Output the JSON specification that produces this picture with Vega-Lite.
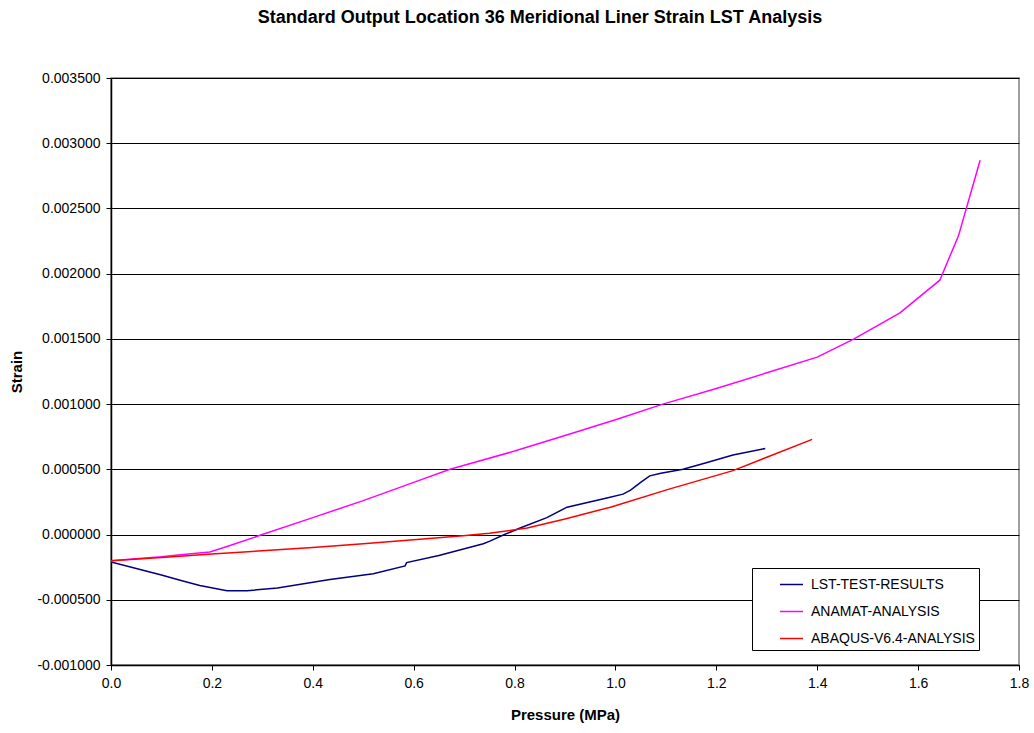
{
  "$schema": "https://vega.github.io/schema/vega-lite/v6.json",
  "autosize": "none",
  "width": 908,
  "height": 587,
  "padding": {"left": 111, "top": 78, "right": 15, "bottom": 68},
  "background": "white",
  "title": {
    "text": "Standard Output Location 36 Meridional Liner Strain LST Analysis",
    "anchor": "middle",
    "frame": "group",
    "dx": -25,
    "offset": 44,
    "font": "Liberation Sans",
    "fontSize": 18,
    "fontWeight": "bold",
    "color": "black"
  },
  "config": {
    "font": "Liberation Sans",
    "view": {"stroke": "#808080", "strokeWidth": 1.5},
    "axis": {
      "labelFont": "Liberation Sans",
      "labelFontSize": 14,
      "labelColor": "black",
      "titleFont": "Liberation Sans",
      "titleFontSize": 15,
      "titleFontWeight": "bold",
      "titleColor": "black",
      "domainColor": "black",
      "domainWidth": 1.5,
      "tickColor": "black",
      "tickSize": 5,
      "tickWidth": 1
    },
    "legend": {
      "labelFont": "Liberation Sans",
      "labelFontSize": 14,
      "labelColor": "black"
    }
  },
  "data": {
    "values": [
      {"series": "LST-TEST-RESULTS", "k": 1, "pressure": 0.0, "strain": 0.0},
      {"series": "LST-TEST-RESULTS", "k": 2, "pressure": 0.0, "strain": -0.00021},
      {"series": "LST-TEST-RESULTS", "k": 3, "pressure": 0.05, "strain": -0.00026},
      {"series": "LST-TEST-RESULTS", "k": 4, "pressure": 0.1, "strain": -0.00031},
      {"series": "LST-TEST-RESULTS", "k": 5, "pressure": 0.137, "strain": -0.00035},
      {"series": "LST-TEST-RESULTS", "k": 6, "pressure": 0.176, "strain": -0.00039},
      {"series": "LST-TEST-RESULTS", "k": 7, "pressure": 0.23, "strain": -0.00043},
      {"series": "LST-TEST-RESULTS", "k": 8, "pressure": 0.27, "strain": -0.00043},
      {"series": "LST-TEST-RESULTS", "k": 9, "pressure": 0.33, "strain": -0.00041},
      {"series": "LST-TEST-RESULTS", "k": 10, "pressure": 0.434, "strain": -0.000345},
      {"series": "LST-TEST-RESULTS", "k": 11, "pressure": 0.52, "strain": -0.0003},
      {"series": "LST-TEST-RESULTS", "k": 12, "pressure": 0.583, "strain": -0.00024},
      {"series": "LST-TEST-RESULTS", "k": 13, "pressure": 0.586, "strain": -0.000215},
      {"series": "LST-TEST-RESULTS", "k": 14, "pressure": 0.65, "strain": -0.00016},
      {"series": "LST-TEST-RESULTS", "k": 15, "pressure": 0.738, "strain": -0.00007},
      {"series": "LST-TEST-RESULTS", "k": 16, "pressure": 0.751, "strain": -0.00005},
      {"series": "LST-TEST-RESULTS", "k": 17, "pressure": 0.78, "strain": 0.0},
      {"series": "LST-TEST-RESULTS", "k": 18, "pressure": 0.811, "strain": 0.00005},
      {"series": "LST-TEST-RESULTS", "k": 19, "pressure": 0.864, "strain": 0.00013},
      {"series": "LST-TEST-RESULTS", "k": 20, "pressure": 0.904, "strain": 0.00021},
      {"series": "LST-TEST-RESULTS", "k": 21, "pressure": 0.983, "strain": 0.00028},
      {"series": "LST-TEST-RESULTS", "k": 22, "pressure": 1.015, "strain": 0.00031},
      {"series": "LST-TEST-RESULTS", "k": 23, "pressure": 1.03, "strain": 0.00034},
      {"series": "LST-TEST-RESULTS", "k": 24, "pressure": 1.05, "strain": 0.0004},
      {"series": "LST-TEST-RESULTS", "k": 25, "pressure": 1.068, "strain": 0.00045},
      {"series": "LST-TEST-RESULTS", "k": 26, "pressure": 1.09, "strain": 0.00047},
      {"series": "LST-TEST-RESULTS", "k": 27, "pressure": 1.134, "strain": 0.0005},
      {"series": "LST-TEST-RESULTS", "k": 28, "pressure": 1.18, "strain": 0.00055},
      {"series": "LST-TEST-RESULTS", "k": 29, "pressure": 1.233, "strain": 0.00061},
      {"series": "LST-TEST-RESULTS", "k": 30, "pressure": 1.297, "strain": 0.00066},

      {"series": "ANAMAT-ANALYSIS", "k": 1, "pressure": 0.0, "strain": -0.0002},
      {"series": "ANAMAT-ANALYSIS", "k": 2, "pressure": 0.1, "strain": -0.00017},
      {"series": "ANAMAT-ANALYSIS", "k": 3, "pressure": 0.143, "strain": -0.000152},
      {"series": "ANAMAT-ANALYSIS", "k": 4, "pressure": 0.196, "strain": -0.000134},
      {"series": "ANAMAT-ANALYSIS", "k": 5, "pressure": 0.236, "strain": -0.000084},
      {"series": "ANAMAT-ANALYSIS", "k": 6, "pressure": 0.3, "strain": 0.0},
      {"series": "ANAMAT-ANALYSIS", "k": 7, "pressure": 0.4, "strain": 0.00013},
      {"series": "ANAMAT-ANALYSIS", "k": 8, "pressure": 0.5, "strain": 0.00026},
      {"series": "ANAMAT-ANALYSIS", "k": 9, "pressure": 0.6, "strain": 0.0004},
      {"series": "ANAMAT-ANALYSIS", "k": 10, "pressure": 0.672, "strain": 0.0005},
      {"series": "ANAMAT-ANALYSIS", "k": 11, "pressure": 0.8, "strain": 0.00064},
      {"series": "ANAMAT-ANALYSIS", "k": 12, "pressure": 0.9, "strain": 0.00076},
      {"series": "ANAMAT-ANALYSIS", "k": 13, "pressure": 1.0, "strain": 0.00088},
      {"series": "ANAMAT-ANALYSIS", "k": 14, "pressure": 1.094, "strain": 0.001},
      {"series": "ANAMAT-ANALYSIS", "k": 15, "pressure": 1.2, "strain": 0.00112},
      {"series": "ANAMAT-ANALYSIS", "k": 16, "pressure": 1.3, "strain": 0.00124},
      {"series": "ANAMAT-ANALYSIS", "k": 17, "pressure": 1.4, "strain": 0.00136},
      {"series": "ANAMAT-ANALYSIS", "k": 18, "pressure": 1.473, "strain": 0.0015},
      {"series": "ANAMAT-ANALYSIS", "k": 19, "pressure": 1.564, "strain": 0.0017},
      {"series": "ANAMAT-ANALYSIS", "k": 20, "pressure": 1.643, "strain": 0.00195},
      {"series": "ANAMAT-ANALYSIS", "k": 21, "pressure": 1.68, "strain": 0.00229},
      {"series": "ANAMAT-ANALYSIS", "k": 22, "pressure": 1.723, "strain": 0.00287},

      {"series": "ABAQUS-V6.4-ANALYSIS", "k": 1, "pressure": 0.0, "strain": -0.0002},
      {"series": "ABAQUS-V6.4-ANALYSIS", "k": 2, "pressure": 0.1, "strain": -0.000175},
      {"series": "ABAQUS-V6.4-ANALYSIS", "k": 3, "pressure": 0.2, "strain": -0.00015},
      {"series": "ABAQUS-V6.4-ANALYSIS", "k": 4, "pressure": 0.315, "strain": -0.00012},
      {"series": "ABAQUS-V6.4-ANALYSIS", "k": 5, "pressure": 0.4, "strain": -0.0001},
      {"series": "ABAQUS-V6.4-ANALYSIS", "k": 6, "pressure": 0.5, "strain": -0.00007},
      {"series": "ABAQUS-V6.4-ANALYSIS", "k": 7, "pressure": 0.6, "strain": -0.00004},
      {"series": "ABAQUS-V6.4-ANALYSIS", "k": 8, "pressure": 0.698, "strain": -0.00001},
      {"series": "ABAQUS-V6.4-ANALYSIS", "k": 9, "pressure": 0.75, "strain": 0.00001},
      {"series": "ABAQUS-V6.4-ANALYSIS", "k": 10, "pressure": 0.825, "strain": 0.00005},
      {"series": "ABAQUS-V6.4-ANALYSIS", "k": 11, "pressure": 0.9, "strain": 0.00012},
      {"series": "ABAQUS-V6.4-ANALYSIS", "k": 12, "pressure": 0.99, "strain": 0.00021},
      {"series": "ABAQUS-V6.4-ANALYSIS", "k": 13, "pressure": 1.108, "strain": 0.00035},
      {"series": "ABAQUS-V6.4-ANALYSIS", "k": 14, "pressure": 1.233, "strain": 0.00049},
      {"series": "ABAQUS-V6.4-ANALYSIS", "k": 15, "pressure": 1.39, "strain": 0.00073}
    ]
  },
  "mark": {"type": "line", "strokeWidth": 1.5, "clip": true},
  "encoding": {
    "x": {
      "field": "pressure",
      "type": "quantitative",
      "title": "Pressure (MPa)",
      "scale": {"domain": [0, 1.8], "nice": false, "zero": false},
      "axis": {
        "values": [0, 0.2, 0.4, 0.6, 0.8, 1.0, 1.2, 1.4, 1.6, 1.8],
        "format": ".1f",
        "grid": false,
        "labelPadding": 6,
        "titlePadding": 17,
        "labelFlush": false
      }
    },
    "y": {
      "field": "strain",
      "type": "quantitative",
      "title": "Strain",
      "scale": {"domain": [-0.001, 0.0035], "nice": false, "zero": false},
      "axis": {
        "values": [-0.001, -0.0005, 0, 0.0005, 0.001, 0.0015, 0.002, 0.0025, 0.003, 0.0035],
        "labelExpr": "replace(format(datum.value, '.6f'), '\u2212', '-')",
        "grid": true,
        "gridColor": "black",
        "gridWidth": 1,
        "gridOpacity": 1,
        "labelPadding": 6,
        "titlePadding": 12
      }
    },
    "color": {
      "field": "series",
      "type": "nominal",
      "scale": {
        "domain": ["LST-TEST-RESULTS", "ANAMAT-ANALYSIS", "ABAQUS-V6.4-ANALYSIS"],
        "range": ["#000080", "#ff00ff", "#ff0000"]
      },
      "legend": {
        "title": null,
        "orient": "none",
        "legendX": 641,
        "legendY": 490,
        "symbolType": "stroke",
        "symbolStrokeWidth": 1.5,
        "symbolSize": 529,
        "symbolOffset": 23,
        "padding": 4,
        "rowPadding": 7,
        "labelOffset": 7,
        "labelLimit": 400,
        "strokeColor": "black",
        "fillColor": "white"
      }
    },
    "order": {"field": "k", "type": "quantitative"}
  }
}
